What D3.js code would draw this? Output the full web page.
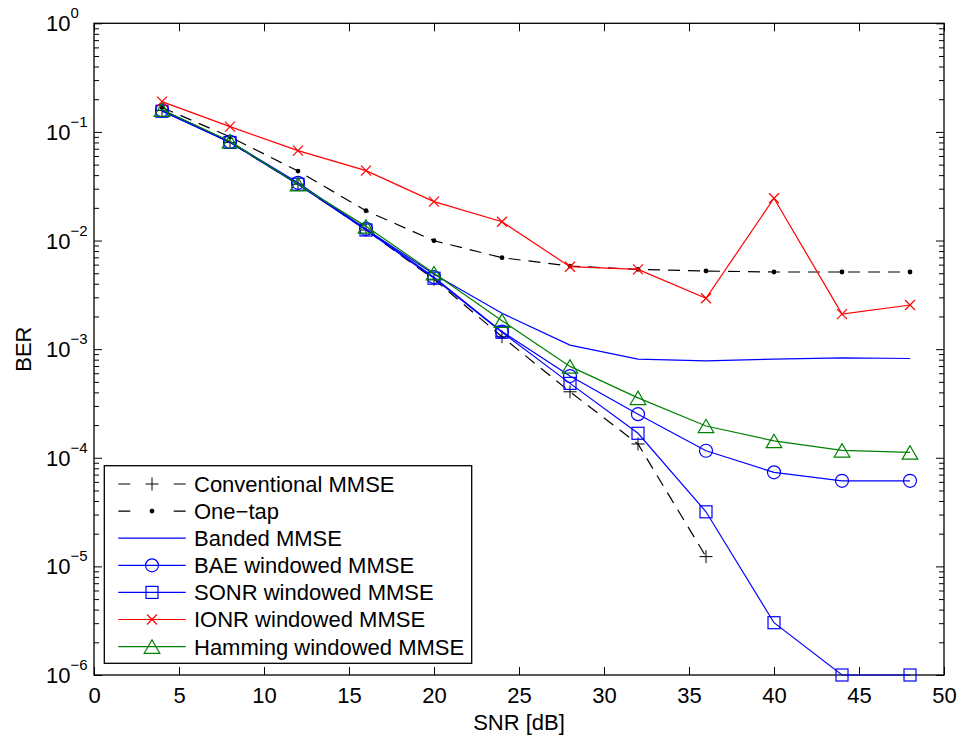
<!DOCTYPE html>
<html>
<head>
<meta charset="utf-8">
<title>BER vs SNR</title>
<style>
  body { margin: 0; background: #fff; }
  svg { display: block; font-family: "Liberation Sans", Arial, sans-serif; }
  .tick text { font-size: 22px; fill: #000; }
</style>
</head>
<body>
<script src="https://cdn.jsdelivr.net/npm/d3@7"></script>
<script>
// data
var snr = [4, 8, 12, 16, 20, 24, 28, 32, 36, 40, 44, 48];
var snrConv = [4, 8, 12, 16, 20, 24, 28, 32, 36];
var conventional = [0.158, 0.080, 0.033, 0.0125, 0.0044, 0.0013, 0.000405, 0.000134, 0.0000123];
var oneTap = [0.168, 0.090, 0.0436, 0.0188, 0.00996, 0.00695, 0.00582, 0.00543, 0.00524, 0.00513, 0.00513, 0.00513];
var banded = [0.16, 0.081, 0.033, 0.0127, 0.0049, 0.00214, 0.00109, 0.00081, 0.00078, 0.00081, 0.00083, 0.00082];
var bae = [0.158, 0.081, 0.034, 0.0128, 0.0046, 0.00145, 0.000565, 0.000252, 0.000116, 0.0000734, 0.0000614, 0.0000614];
var sonr = [0.155, 0.080, 0.033, 0.0125, 0.0045, 0.00143, 0.000484, 0.000168, 0.0000318, 0.00000303, 0.000001, 0.000001];
var ionr = [0.19, 0.112, 0.0672, 0.044, 0.0228, 0.0149, 0.00574, 0.00543, 0.00294, 0.0245, 0.0021, 0.00255];
var hamming = [0.16, 0.082, 0.033, 0.0135, 0.005, 0.00183, 0.000694, 0.000356, 0.000196, 0.000143, 0.000117, 0.000112];

var xTicks = [0, 5, 10, 15, 20, 25, 30, 35, 40, 45, 50];
var yExponents = [0, -1, -2, -3, -4, -5, -6];

var series = [
  {name: "Conventional MMSE", x: snrConv, y: conventional, color: "#000", dash: "12,8", marker: "plus"},
  {name: "One\u2212tap", x: snr, y: oneTap, color: "#000", dash: "12,8", marker: "dot"},
  {name: "Banded MMSE", x: snr, y: banded, color: "#0000ff", dash: null, marker: null},
  {name: "BAE windowed MMSE", x: snr, y: bae, color: "#0000ff", dash: null, marker: "circle"},
  {name: "SONR windowed MMSE", x: snr, y: sonr, color: "#0000ff", dash: null, marker: "square"},
  {name: "IONR windowed MMSE", x: snr, y: ionr, color: "#ff0000", dash: null, marker: "x"},
  {name: "Hamming windowed MMSE", x: snr, y: hamming, color: "#008000", dash: null, marker: "triangle"}
];

var W = 957, H = 736;
var plotL = 94, plotR = 944, plotT = 23.3, plotB = 675;

var svg = d3.select("body").append("svg")
    .attr("width", W)
    .attr("height", H);

var x = d3.scaleLinear().domain([0, 50]).range([plotL, plotR]);
var y = d3.scaleLog().domain([1e-6, 1]).range([plotB, plotT]);

var majors = yExponents.map(function (e) { return Math.pow(10, e); });
var minors = [];
for (var e = -6; e < 0; e++) {
  for (var k = 2; k <= 9; k++) minors.push(k * Math.pow(10, e));
}

// axes, ticks pointing inward on all four sides
svg.append("g")
    .attr("transform", "translate(0," + plotB + ")")
    .call(d3.axisBottom(x).tickValues(xTicks).tickSizeInner(-8).tickSizeOuter(0).tickPadding(12).tickFormat(d3.format("d")));
svg.append("g")
    .attr("transform", "translate(0," + plotT + ")")
    .call(d3.axisTop(x).tickValues(xTicks).tickSizeInner(-8).tickSizeOuter(0).tickFormat(""));
svg.append("g")
    .attr("transform", "translate(" + plotL + ",0)")
    .call(d3.axisLeft(y).tickValues(majors).tickSizeInner(-8).tickSizeOuter(0).tickFormat(""));
svg.append("g")
    .attr("transform", "translate(" + plotL + ",0)")
    .call(d3.axisLeft(y).tickValues(minors).tickSizeInner(-5).tickSizeOuter(0).tickFormat(""));
svg.append("g")
    .attr("transform", "translate(" + plotR + ",0)")
    .call(d3.axisRight(y).tickValues(majors).tickSizeInner(-8).tickSizeOuter(0).tickFormat(""));
svg.append("g")
    .attr("transform", "translate(" + plotR + ",0)")
    .call(d3.axisRight(y).tickValues(minors).tickSizeInner(-5).tickSizeOuter(0).tickFormat(""));

svg.selectAll(".domain").remove();
svg.selectAll(".tick line").attr("stroke", "#000").attr("stroke-width", 1);

svg.append("rect")
    .attr("x", plotL).attr("y", plotT)
    .attr("width", plotR - plotL).attr("height", plotB - plotT)
    .attr("fill", "none").attr("stroke", "#000").attr("stroke-width", 1.3);

// y tick labels 10^n
var ylab = svg.append("g").selectAll("text")
    .data(yExponents)
    .enter().append("text")
    .attr("x", 46)
    .attr("y", function (d) { return y(Math.pow(10, d)) + 8; })
    .style("font-size", "22px");
ylab.append("tspan").text("10");
ylab.append("tspan")
    .attr("dy", -13)
    .style("font-size", "15px")
    .text(function (d) { return d === 0 ? "0" : "\u2212" + (-d); });

// axis titles
svg.append("text")
    .attr("x", (plotL + plotR) / 2)
    .attr("y", 730)
    .attr("text-anchor", "middle")
    .style("font-size", "22px")
    .text("SNR [dB]");
svg.append("text")
    .attr("transform", "translate(31," + ((plotT + plotB) / 2) + ") rotate(-90)")
    .attr("text-anchor", "middle")
    .style("font-size", "22px")
    .text("BER");

function drawMarker(g, type, cx, cy, color) {
  if (type === "plus") {
    g.append("path").attr("d", "M" + (cx - 6.5) + "," + cy + "h13M" + cx + "," + (cy - 6.5) + "v13")
        .attr("stroke", color).attr("fill", "none");
  } else if (type === "dot") {
    g.append("circle").attr("cx", cx).attr("cy", cy).attr("r", 2.4).attr("fill", color);
  } else if (type === "circle") {
    g.append("circle").attr("cx", cx).attr("cy", cy).attr("r", 6.5)
        .attr("stroke", color).attr("fill", "none").attr("stroke-width", 1.2);
  } else if (type === "square") {
    g.append("rect").attr("x", cx - 6).attr("y", cy - 6).attr("width", 12).attr("height", 12)
        .attr("stroke", color).attr("fill", "none").attr("stroke-width", 1.2);
  } else if (type === "x") {
    g.append("path").attr("d", "M" + (cx - 5) + "," + (cy - 5) + "l10,10M" + (cx - 5) + "," + (cy + 5) + "l10,-10")
        .attr("stroke", color).attr("fill", "none").attr("stroke-width", 1.2);
  } else if (type === "triangle") {
    g.append("path").attr("d", "M" + cx + "," + (cy - 6.7) + "L" + (cx + 7.8) + "," + (cy + 6.7) + "L" + (cx - 7.8) + "," + (cy + 6.7) + "Z")
        .attr("stroke", color).attr("fill", "none").attr("stroke-width", 1.2);
  }
}

var line = d3.line()
    .x(function (d) { return x(d[0]); })
    .y(function (d) { return y(d[1]); });

series.forEach(function (s) {
  var pts = s.x.map(function (v, i) { return [v, s.y[i]]; });
  var g = svg.append("g");
  g.append("path")
      .datum(pts)
      .attr("d", line)
      .attr("fill", "none")
      .attr("stroke", s.color)
      .attr("stroke-width", 1.2)
      .attr("stroke-dasharray", s.dash);
  if (s.marker) {
    pts.forEach(function (p) { drawMarker(g, s.marker, x(p[0]), y(p[1]), s.color); });
  }
});

// legend
var lg = svg.append("g");
lg.append("rect")
    .attr("x", 104.3).attr("y", 465.7)
    .attr("width", 367.4).attr("height", 197.6)
    .attr("fill", "#fff").attr("stroke", "#000").attr("stroke-width", 1.3);
series.forEach(function (s, i) {
  var cy = 484 + i * 27.1;
  lg.append("path")
      .attr("d", "M118.3," + cy + "H185.7")
      .attr("stroke", s.color)
      .attr("stroke-width", 1.2)
      .attr("stroke-dasharray", s.dash ? "12,43.4,12" : null)
      .attr("fill", "none");
  if (s.marker) drawMarker(lg, s.marker, 152, cy, s.color);
  lg.append("text")
      .attr("x", 194)
      .attr("y", cy)
      .attr("dy", "0.36em")
      .style("font-size", "22px")
      .text(s.name);
});
</script>
</body>
</html>
